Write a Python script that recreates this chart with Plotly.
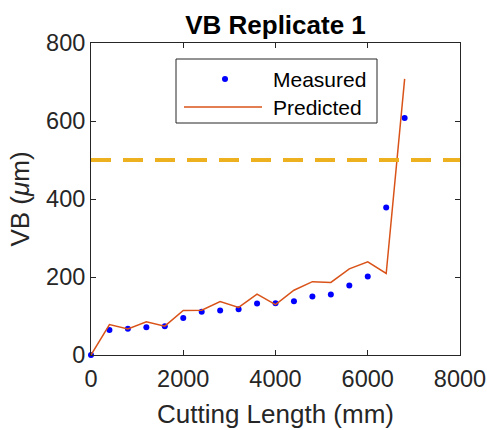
import plotly.graph_objects as go

# Tool wear (flank wear VB) against cutting length, replicate 1
cutting_length = [0, 400, 800, 1200, 1600, 2000, 2400, 2800, 3200, 3600,
                  4000, 4400, 4800, 5200, 5600, 6000, 6400, 6800]
vb_measured = [0, 64, 67, 71, 74, 95, 111, 114, 117, 132,
               133, 138, 150, 155, 178, 201, 378, 608]
vb_predicted = [0, 78, 67, 85, 74, 114, 115, 137, 122, 156,
                129, 166, 188, 186, 221, 239, 209, 708]
vb_limit = 500

x_ticks = [0, 2000, 4000, 6000, 8000]
y_ticks = [0, 200, 400, 600, 800]

FONT = "Liberation Sans, Arial, sans-serif"
INK = "#262626"

# plot-area geometry in pixels, used to place the hand-drawn legend box
L, R, T, B = 91, 460, 43, 355
W, H = R - L, B - T


def px(x):
    return (x - L) / W


def py(y):
    return (B - y) / H


fig = go.Figure()
fig.add_trace(go.Scatter(
    x=cutting_length, y=vb_measured, mode="markers", name="Measured",
    marker=dict(color="#0000FF", size=6), showlegend=False, cliponaxis=False))
fig.add_trace(go.Scatter(
    x=cutting_length, y=vb_predicted, mode="lines", name="Predicted",
    line=dict(color="#D95319", width=1.5), showlegend=False, cliponaxis=False))

shapes = [
    # wear limit
    dict(type="line", xref="paper", yref="y", x0=0, x1=1, y0=vb_limit, y1=vb_limit,
         line=dict(color="#EDB120", width=4, dash="20px,12px"), layer="above"),
    # legend frame
    dict(type="rect", xref="paper", yref="paper", x0=px(176), x1=px(377),
         y0=py(123), y1=py(59), fillcolor="white", line=dict(color=INK, width=1),
         layer="above"),
    # legend sample: dot
    dict(type="circle", xref="paper", yref="paper", xsizemode="pixel", ysizemode="pixel",
         xanchor=px(225), yanchor=py(79), x0=-3, x1=3, y0=-3, y1=3,
         fillcolor="#0000FF", line=dict(width=0), layer="above"),
    # legend sample: line
    dict(type="line", xref="paper", yref="paper", x0=px(184), x1=px(262),
         y0=py(107), y1=py(107), line=dict(color="#D95319", width=1.5), layer="above"),
]

annotations = [
    dict(text="Measured", xref="paper", yref="paper", x=px(271), y=py(79),
         xanchor="left", yanchor="middle", showarrow=False,
         font=dict(family=FONT, size=21, color="black")),
    dict(text="Predicted", xref="paper", yref="paper", x=px(271), y=py(107),
         xanchor="left", yanchor="middle", showarrow=False,
         font=dict(family=FONT, size=21, color="black")),
]

axis_common = dict(
    showgrid=False, zeroline=False, showline=True, linecolor=INK, linewidth=1,
    mirror="ticks", ticks="inside", ticklen=5, tickcolor=INK, tickwidth=1,
    tickfont=dict(family=FONT, size=23.5, color=INK), automargin=False,
)

fig.update_layout(
    width=487, height=430,
    margin=dict(l=L, r=487 - R, t=T, b=430 - B),
    paper_bgcolor="white", plot_bgcolor="white",
    font=dict(family=FONT, color=INK),
    title=dict(text="<b>VB Replicate 1</b>", x=0.5, xref="paper", xanchor="center",
               y=1 - 25 / 430, yref="container", yanchor="middle",
               font=dict(family=FONT, size=26, color="black")),
    xaxis=dict(range=[0, 8000], tickvals=x_ticks, ticktext=[str(v) for v in x_ticks],
               ticklabelstandoff=3,
               title=dict(text="Cutting Length (mm)", standoff=13,
                          font=dict(family=FONT, size=26, color=INK)),
               **axis_common),
    yaxis=dict(range=[0, 800], tickvals=y_ticks, ticktext=[str(v) for v in y_ticks],
               title=dict(text="VB (<i>μ</i>m)", standoff=8,
                          font=dict(family=FONT, size=26, color=INK)),
               **axis_common),
    shapes=shapes,
    annotations=annotations,
    showlegend=False,
)

fig.write_html("out.html")
